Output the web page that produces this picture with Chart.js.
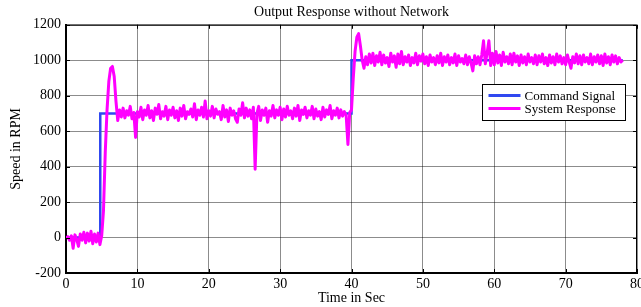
<!DOCTYPE html>
<html>
<head>
<meta charset="utf-8">
<script src="https://cdn.jsdelivr.net/npm/chart.js@4"></script>
<style>
  html, body { margin: 0; padding: 0; background: #fff; }
  canvas { display: block; }
</style>
</head>
<body>
<canvas id="response_chart" width="641" height="307"></canvas>
<script>
// sampled system response, one value every sampleTime seconds from t = 0
const sampleTime = 0.25
const responseSpeed = [
  // 0 - 5 s, motor at rest
  -5, 5, -15, 10, -60, 15, -10, -50,
  20, -15, 30, -30, 25, -20, 35, -35,
  20, -25, 25, -40, 10,
  // 5.25 - 7.75 s, first step and overshoot
  150, 480, 720, 880, 955, 965, 910, 770, 660, 720, 680,
  // 8 - 39.75 s, around 700 rpm
  730, 675, 715, 690, 740, 670, 705, 565,
  710, 680, 735, 665, 720, 690, 745, 675,
  715, 660, 730, 695, 750, 670, 710, 685,
  740, 665, 720, 690, 735, 675, 715, 660,
  730, 685, 745, 670, 710, 695, 725, 680,
  755, 665, 720, 690, 735, 680, 770, 670,
  715, 685, 740, 675, 725, 695, 710, 665,
  745, 680, 720, 655, 730, 690, 715, 670,
  650, 725, 690, 760, 675, 730, 685, 720,
  670, 735, 385, 700, 740, 660, 720, 690,
  730, 650, 715, 685, 745, 675, 720, 690,
  735, 665, 725, 680, 740, 690, 715, 670,
  730, 685, 745, 660, 720, 695, 735, 675,
  715, 690, 740, 670, 725, 685, 710, 665,
  735, 680, 720, 695, 745, 670, 715, 690,
  730, 675, 720, 685, 710, 690, 525, 705,
  // 40 - 41.75 s, second step
  720, 900, 1050, 1130, 1150, 1080, 1000, 955,
  // 42 - 78 s, around 1000 rpm
  1020, 975, 1035, 985, 1040, 970, 1025, 990,
  1045, 975, 1030, 985, 1015, 965, 1040, 990,
  1025, 960, 1035, 980, 1050, 975, 1020, 990,
  1030, 970, 1015, 985, 1040, 975, 1025, 995,
  1035, 980, 1020, 970, 1030, 990, 1015, 975,
  1025, 985, 1040, 970, 1020, 990, 1030, 975,
  1015, 985, 1035, 970, 1025, 990, 1010, 980,
  1030, 975, 1020, 985, 940, 1025, 980, 1020,
  975, 1030, 1110, 980, 1040, 1110, 970, 1040,
  975, 1050, 985, 1030, 970, 1045, 990, 1020,
  980, 1035, 975, 1040, 990, 1025, 970, 1030,
  985, 1020, 975, 1035, 990, 1015, 980, 1030,
  975, 1025, 990, 1035, 980, 1015, 970, 1030,
  985, 1020, 975, 1035, 990, 1025, 980, 1015,
  975, 1030, 990, 955, 1020, 985, 1035, 980,
  1025, 975, 1030, 990, 1015, 980, 1035, 975,
  1020, 990, 1030, 980, 1025, 970, 1035, 985,
  1020, 975, 1030, 990, 1025, 980, 1015, 990,
  1000,
]

const commandTime = [0, 4.8, 4.8, 40, 40, 78]
const commandSpeed = [0, 0, 700, 700, 1000, 1000]

const xTicks = [0, 10, 20, 30, 40, 50, 60, 70, 80]
const yTicks = [-200, 0, 200, 400, 600, 800, 1000, 1200]

const serif = "'Liberation Serif', 'Times New Roman', serif"
const font = { family: serif, size: 14 }

const responsePoints = responseSpeed.map((v, i) => ({ x: i * sampleTime, y: v }))
const commandPoints = commandTime.map((t, i) => ({ x: t, y: commandSpeed[i] }))

// box, inner tick marks and the legend drawn the way matlab does it
const framePlugin = {
  id: 'frame',
  afterDatasetsDraw(chart) {
    const { ctx, chartArea: a, scales } = chart
    ctx.save()
    ctx.strokeStyle = '#000'
    ctx.lineWidth = 1
    ctx.beginPath()
    ctx.moveTo(a.left, a.top + 0.5)
    ctx.lineTo(a.right - 0.5, a.top + 0.5)
    ctx.lineTo(a.right - 0.5, a.bottom)
    ctx.stroke()

    ctx.beginPath()
    xTicks.forEach((v) => {
      const px = Math.round(scales.x.getPixelForValue(v)) + 0.5
      ctx.moveTo(px, a.top)
      ctx.lineTo(px, a.top + 4)
      ctx.moveTo(px, a.bottom)
      ctx.lineTo(px, a.bottom - 4)
    })
    yTicks.forEach((v) => {
      const py = Math.round(scales.y.getPixelForValue(v)) + 0.5
      ctx.moveTo(a.left, py)
      ctx.lineTo(a.left + 4, py)
      ctx.moveTo(a.right, py)
      ctx.lineTo(a.right - 4, py)
    })
    ctx.stroke()

    // legend
    const w = 143
    const h = 36
    const x = Math.round(a.right - 12 - w) + 0.5
    const y = Math.round(a.top + 59) + 0.5
    ctx.fillStyle = '#fff'
    ctx.fillRect(x, y, w, h)
    ctx.lineWidth = 1
    ctx.strokeRect(x, y, w, h)
    ctx.font = '13px ' + serif
    ctx.textBaseline = 'middle'
    chart.data.datasets.forEach((ds, i) => {
      const ly = y + 11 + i * 13
      ctx.strokeStyle = ds.borderColor
      ctx.lineWidth = 3
      ctx.beginPath()
      ctx.moveTo(x + 6, ly)
      ctx.lineTo(x + 38, ly)
      ctx.stroke()
      ctx.fillStyle = '#000'
      ctx.fillText(ds.label, x + 42, ly + 1)
    })
    ctx.restore()
  },
}

const gridColor = 'rgba(0,0,0,0.45)'

new Chart(document.getElementById('response_chart').getContext('2d'), {
  type: 'line',
  data: {
    datasets: [
      {
        label: 'Command Signal',
        data: commandPoints,
        borderColor: '#3048f0',
        borderWidth: 2.5,
        pointRadius: 0,
        tension: 0,
        order: 1,
      },
      {
        label: 'System Response',
        data: responsePoints,
        borderColor: '#ff00ff',
        borderWidth: 3,
        borderJoinStyle: 'round',
        pointRadius: 0,
        tension: 0,
        order: 0,
      },
    ],
  },
  options: {
    responsive: false,
    animation: false,
    layout: { padding: { left: 5, right: 4, top: 0, bottom: 0 } },
    plugins: {
      legend: { display: false },
      tooltip: { enabled: false },
      title: {
        display: true,
        text: 'Output Response without Network',
        color: '#000',
        font: { family: serif, size: 14, weight: 'normal' },
        padding: { top: 4, bottom: 4 },
        fullSize: false,
      },
    },
    scales: {
      x: {
        type: 'linear',
        min: 0,
        max: 80,
        afterBuildTicks: (s) => {
          s.ticks = xTicks.map((v) => ({ value: v }))
        },
        afterFit: (s) => {
          s.height = 34
          s.paddingLeft = 0
          s.paddingRight = 0
        },
        ticks: {
          color: '#000',
          font,
          padding: 3,
          maxRotation: 0,
          autoSkip: false,
          callback: (v) => String(v),
        },
        grid: { color: gridColor, drawTicks: false },
        border: { color: '#000', width: 2 },
        title: {
          display: true,
          text: 'Time in Sec',
          color: '#000',
          font,
          padding: { top: 0, bottom: 0 },
        },
      },
      y: {
        type: 'linear',
        min: -200,
        max: 1200,
        afterBuildTicks: (s) => {
          s.ticks = yTicks.map((v) => ({ value: v }))
        },
        afterFit: (s) => {
          s.width = 61
          s.paddingTop = 0
          s.paddingBottom = 0
        },
        ticks: {
          color: '#000',
          font,
          padding: 5,
          autoSkip: false,
          callback: (v) => String(v),
        },
        grid: { color: gridColor, drawTicks: false },
        border: { color: '#000', width: 2 },
        title: {
          display: true,
          text: 'Speed in RPM',
          color: '#000',
          font,
          padding: { top: 3, bottom: 3 },
        },
      },
    },
  },
  plugins: [framePlugin],
})
</script>
</body>
</html>
